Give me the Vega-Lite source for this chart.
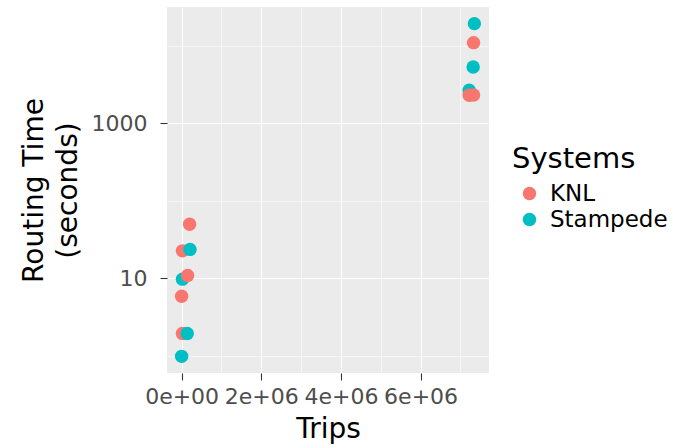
{
  "$schema": "https://vega.github.io/schema/vega-lite/v6.json",
  "autosize": "none",
  "padding": {"left": 167, "top": 7, "right": 184, "bottom": 75},
  "width": 322,
  "height": 366,
  "background": "white",
  "config": {
    "font": "DejaVu Sans",
    "view": {"fill": "#EBEBEB", "stroke": null},
    "axis": {
      "domain": false,
      "gridColor": "white",
      "tickColor": "#333333",
      "tickSize": 7,
      "tickWidth": 1.1,
      "labelColor": "#4D4D4D",
      "labelFontSize": 22,
      "titleFontSize": 28,
      "titleFontWeight": "normal",
      "titleColor": "black",
      "labelFont": "DejaVu Sans",
      "titleFont": "DejaVu Sans"
    },
    "legend": {"labelFont": "DejaVu Sans", "titleFont": "DejaVu Sans"}
  },
  "data": {
    "values": [
      {"Trips": 200000, "Time": 50, "Systems": "KNL"},
      {"Trips": 20000, "Time": 22.7, "Systems": "KNL"},
      {"Trips": 210000, "Time": 23.7, "Systems": "Stampede"},
      {"Trips": 20000, "Time": 9.8, "Systems": "Stampede"},
      {"Trips": 150000, "Time": 10.9, "Systems": "KNL"},
      {"Trips": 0, "Time": 5.9, "Systems": "KNL"},
      {"Trips": 20000, "Time": 1.95, "Systems": "KNL"},
      {"Trips": 140000, "Time": 1.95, "Systems": "Stampede"},
      {"Trips": 0, "Time": 0.99, "Systems": "Stampede"},
      {"Trips": 7350000, "Time": 19300, "Systems": "Stampede"},
      {"Trips": 7330000, "Time": 10970, "Systems": "KNL"},
      {"Trips": 7320000, "Time": 5330, "Systems": "Stampede"},
      {"Trips": 7220000, "Time": 2670, "Systems": "Stampede"},
      {"Trips": 7220000, "Time": 2300, "Systems": "KNL"},
      {"Trips": 7330000, "Time": 2320, "Systems": "KNL"}
    ]
  },
  "mark": {"type": "point", "filled": true, "shape": "circle", "size": 180, "opacity": 1},
  "encoding": {
    "x": {
      "field": "Trips",
      "type": "quantitative",
      "scale": {"domain": [-367500, 7717500], "nice": false, "zero": false},
      "axis": {
        "title": "Trips",
        "values": [0, 1000000, 2000000, 3000000, 4000000, 5000000, 6000000, 7000000],
        "labelExpr": "datum.value % 2000000 == 0 ? (datum.value == 0 ? '0e+00' : (datum.value / 1000000) + 'e+06') : ''",
        "tickOpacity": {"condition": {"test": "datum.value % 2000000 == 0", "value": 1}, "value": 0},
        "gridWidth": {"condition": {"test": "datum.value % 2000000 == 0", "value": 1.1}, "value": 0.55},
        "labelPadding": 6,
        "titlePadding": 8,
        "labelFlush": false,
        "labelOverlap": false
      }
    },
    "y": {
      "field": "Time",
      "type": "quantitative",
      "scale": {"type": "log", "domain": [0.604, 31620], "nice": false},
      "axis": {
        "title": ["Routing Time", "(seconds)"],
        "values": [1, 10, 100, 1000, 10000],
        "labelExpr": "datum.value == 10 || datum.value == 1000 ? datum.label : ''",
        "format": "d",
        "tickOpacity": {"condition": {"test": "datum.value == 10 || datum.value == 1000", "value": 1}, "value": 0},
        "gridWidth": {"condition": {"test": "datum.value == 10 || datum.value == 1000", "value": 1.1}, "value": 0.55},
        "labelPadding": 13,
        "titlePadding": 9,
        "titleLineHeight": 34,
        "labelOverlap": false
      }
    },
    "color": {
      "field": "Systems",
      "type": "nominal",
      "scale": {"domain": ["KNL", "Stampede"], "range": ["#F8766D", "#00BFC4"]},
      "legend": {
        "orient": "none",
        "legendX": 345,
        "legendY": 138,
        "padding": 0,
        "title": "Systems",
        "titleFontSize": 29,
        "titleFontWeight": "normal",
        "titleColor": "black",
        "labelFontSize": 23,
        "labelColor": "black",
        "symbolSize": 180,
        "symbolType": "circle",
        "symbolOffset": 6,
        "labelOffset": 9,
        "rowPadding": 2,
        "titlePadding": 8
      }
    }
  }
}
